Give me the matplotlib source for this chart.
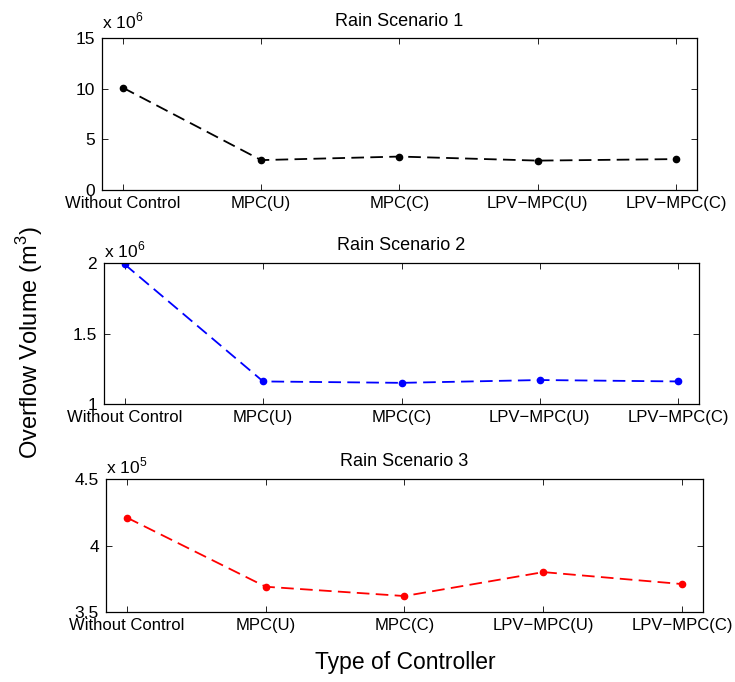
import matplotlib
matplotlib.use("Agg")
import matplotlib.pyplot as plt
import numpy as np

plt.rcParams['font.family'] = ['Liberation Sans', 'DejaVu Sans']
plt.rcParams['mathtext.fontset'] = 'custom'
plt.rcParams['mathtext.rm'] = 'Liberation Sans'

categories = ["Without Control", "MPC(U)", "MPC(C)", "LPV\u2212MPC(U)", "LPV\u2212MPC(C)"]
titles = ["Rain Scenario 1", "Rain Scenario 2", "Rain Scenario 3"]
scenario1 = [10.1e6, 2.95e6, 3.3e6, 2.9e6, 3.05e6]
scenario2 = [1.99e6, 1.16e6, 1.15e6, 1.17e6, 1.16e6]
scenario3 = [4.21e5, 3.69e5, 3.62e5, 3.80e5, 3.71e5]
exponents = [6, 6, 5]
yticks_list = [[0, 5, 10, 15], [1, 1.5, 2], [3.5, 4, 4.5]]
ylims = [(0, 15), (1, 2), (3.5, 4.5)]
colors = ['black', 'blue', 'red']

W, H = 735, 682
fig = plt.figure(figsize=(W/100, H/100), dpi=100)

# axes boxes in pixels: left, right, top, bottom
boxes = [(102, 697, 38, 190), (104, 699, 263, 404), (106, 703, 479, 612)]
exp_gap_px = [7, 3, 3]
series = [scenario1, scenario2, scenario3]
x = np.arange(len(categories))

for i, (l, r, t, b) in enumerate(boxes):
    ax = fig.add_axes([l/W, 1 - b/H, (r-l)/W, (b-t)/H])
    scale = 10 ** exponents[i]
    vals = np.array(series[i]) / scale
    ax.plot(x, vals, linestyle=(0, (7, 3.5)), color=colors[i], linewidth=1.3,
            marker='o', markersize=4.5)
    ax.set_xlim(-0.15, 4.15)
    ax.set_ylim(*ylims[i])
    ax.set_xticks(x)
    ax.set_xticklabels(categories, fontsize=12)
    ax.set_yticks(yticks_list[i])
    ax.set_yticklabels([('%g' % v) for v in yticks_list[i]], fontsize=12.5)
    ax.tick_params(direction='in', top=True, right=True, length=4, width=0.6)
    ax.tick_params(axis='x', pad=4)
    ax.tick_params(axis='y', pad=5)
    for s in ax.spines.values():
        s.set_linewidth(0.9)
    ax.set_title(titles[i], fontsize=13, pad=9)
    ax.text(0.0, 1 + exp_gap_px[i] / (b - t), r'x 10$^{%d}$' % exponents[i],
            transform=ax.transAxes, fontsize=12.5, ha='left', va='bottom')

fig.text(30/W, 1 - 343/H, r'Overflow Volume (m$^3$)', rotation=90, fontsize=17,
         ha='center', va='center')
fig.text(405/W, 1 - 663/H, 'Type of Controller', fontsize=16.5, ha='center', va='center')

fig.savefig('out.png', dpi=100)
